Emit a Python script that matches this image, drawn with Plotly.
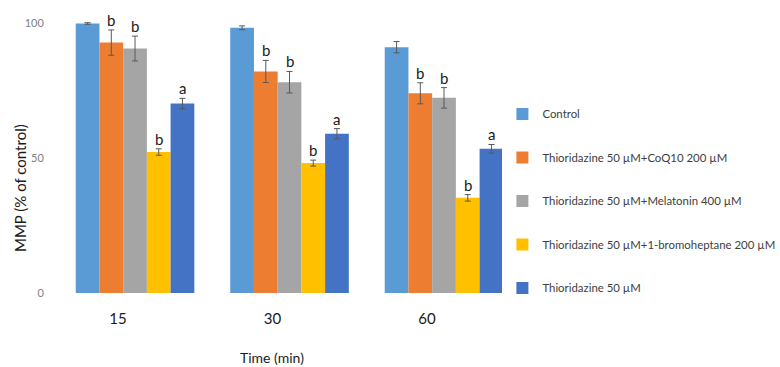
import plotly.graph_objects as go

times = ["15", "30", "60"]
series_names = [
    "Control",
    "Thioridazine 50 µM+CoQ10 200 µM",
    "Thioridazine 50 µM+Melatonin 400 µM",
    "Thioridazine 50 µM+1-bromoheptane 200 µM",
    "Thioridazine 50 µM",
]
control = [100.0, 98.4, 91.2]
coq10 = [92.9, 82.2, 74.1]
melatonin = [90.7, 78.2, 72.4]
bromoheptane = [52.3, 48.2, 35.3]
thioridazine = [70.3, 59.1, 53.5]

control_err = [0.3, 0.7, 2.1]
coq10_err = [4.7, 4.1, 3.9]
melatonin_err = [4.6, 4.0, 3.8]
bromoheptane_err = [1.2, 1.1, 1.2]
thioridazine_err = [1.9, 1.9, 1.6]

control_sig = ["", "", ""]
coq10_sig = ["b", "b", "b"]
melatonin_sig = ["b", "b", "b"]
bromoheptane_sig = ["b", "b", "b"]
thioridazine_sig = ["a", "a", "a"]

values = [control, coq10, melatonin, bromoheptane, thioridazine]
errors = [control_err, coq10_err, melatonin_err, bromoheptane_err, thioridazine_err]
sigs = [control_sig, coq10_sig, melatonin_sig, bromoheptane_sig, thioridazine_sig]
colors = ["#5B9BD5", "#ED7D31", "#A5A5A5", "#FFC000", "#4472C4"]

FONT = "Lato, 'Open Sans', sans-serif"
bar_w = 0.1535
shift = 0.11
start = -2.5 * bar_w + shift

fig = go.Figure()
for i, (name, vals, errs, col) in enumerate(zip(series_names, values, errors, colors)):
    fig.add_trace(go.Bar(
        name=name, x=times, y=vals,
        marker=dict(color=col, line=dict(width=0)),
        width=bar_w, offset=start + i * bar_w,
        error_y=dict(type="data", array=errs, visible=True, color="#595959", thickness=1, width=3),
        legendgroup=name,
    ))

# significance letters
for i, (vals, errs, sg) in enumerate(zip(values, errors, sigs)):
    for j, t in enumerate(times):
        if sg[j]:
            fig.add_annotation(
                x=j + start + (i + 0.5) * bar_w, xref="x",
                y=vals[j] + errs[j], yref="y",
                text=sg[j], showarrow=False, yanchor="bottom", yshift=-1,
                font=dict(family=FONT, size=15, color="#1a1a1a"),
            )

fig.add_annotation(
    text="MMP (% of control)", textangle=-90, showarrow=False,
    xref="paper", yref="paper", x=-0.0766, y=0.371, xanchor="center", yanchor="middle",
    font=dict(family=FONT, size=15, color="#1a1a1a"),
)
fig.add_annotation(
    text="Time (min)", showarrow=False,
    xref="paper", yref="paper", x=0.475, y=-0.229, xanchor="center", yanchor="middle",
    font=dict(family=FONT, size=14, color="#1a1a1a"),
)

fig.update_layout(
    width=780, height=367,
    margin=dict(l=55, r=268, t=10, b=74, autoexpand=False),
    paper_bgcolor="white", plot_bgcolor="white",
    barmode="group",
    showlegend=True,
    legend=dict(
        x=0.979, y=0.684, xanchor="left", yanchor="top",
        font=dict(family=FONT, size=11.4, color="#404040"),
        tracegroupgap=24.5, traceorder="grouped",
        itemwidth=30,
    ),
    xaxis=dict(
        type="category", range=[-0.408, 2.55],
        showgrid=False, showline=False, zeroline=False,
        ticks="outside", ticklen=12, tickcolor="rgba(0,0,0,0)",
        tickfont=dict(family=FONT, size=15, color="#1a1a1a"),
    ),
    yaxis=dict(
        range=[0, 105], tickvals=[0, 50, 100],
        showgrid=False, showline=False, zeroline=False,
        ticks="outside", ticklen=8, tickcolor="rgba(0,0,0,0)",
        tickfont=dict(family=FONT, size=11, color="#808080"),
    ),
)

fig.write_html("out.html", config={"displayModeBar": False},
               post_script="document.body.style.margin='0px';")
